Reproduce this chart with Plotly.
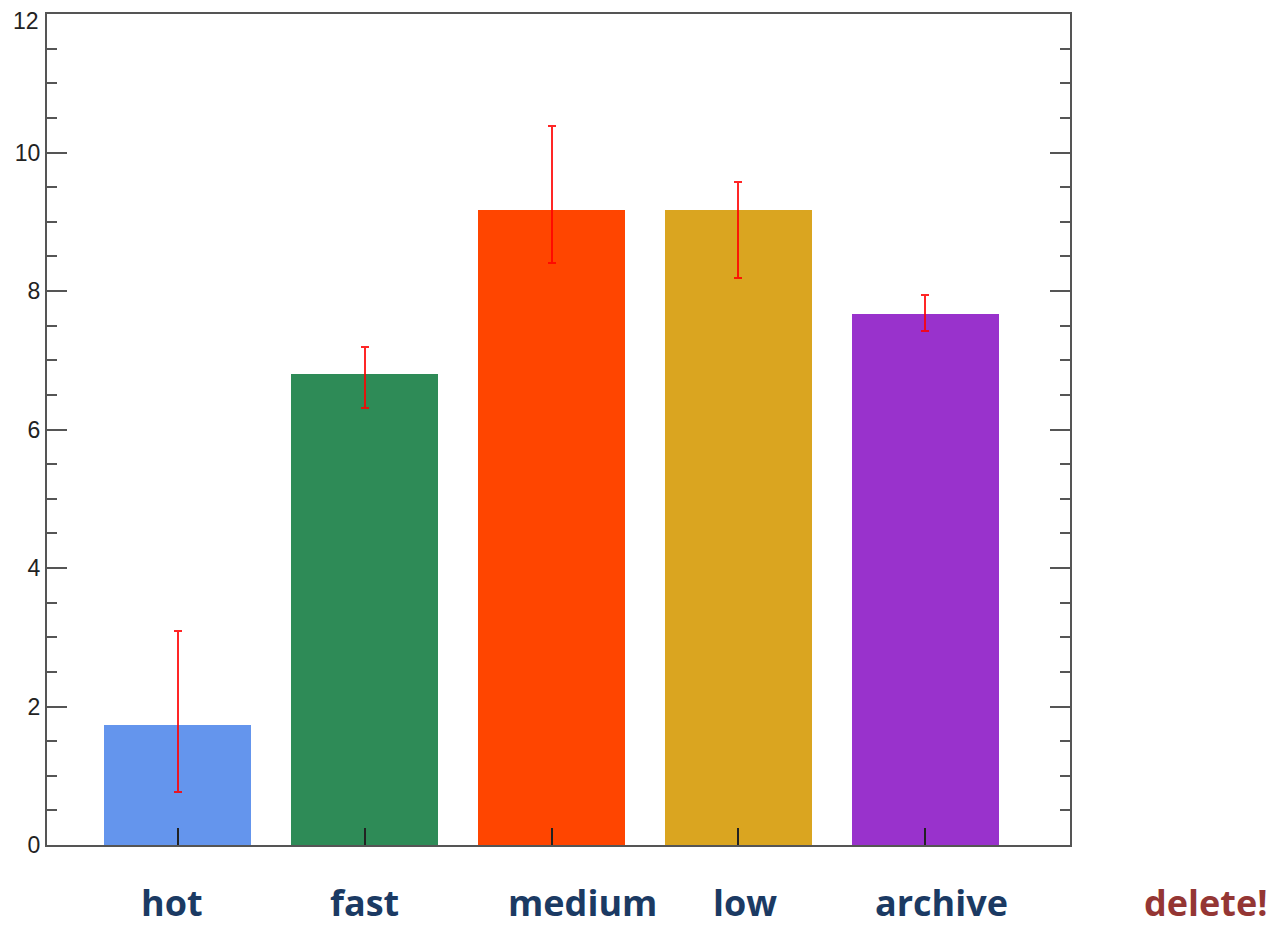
import plotly.graph_objects as go

categories = ["hot", "fast", "medium", "low", "archive"]
positions = [1, 2, 3, 4, 5]
values = [1.73, 6.80, 9.17, 9.17, 7.67]
err_upper = [3.09, 7.19, 10.38, 9.57, 7.94]
err_lower = [0.77, 6.31, 8.40, 8.19, 7.42]
colors = ["#6495ED", "#2E8B57", "#FF4500", "#DAA520", "#9932CC"]

y_ticks = [0, 2, 4, 6, 8, 10, 12]

label_texts = ["hot", "fast", "medium", "low", "archive", "delete!"]
label_xpix = [172, 364, 582, 745, 941, 1206]
label_colors = ["#1B3A63"] * 5 + ["#943634"]

plus = [u - v for u, v in zip(err_upper, values)]
minus = [v - l for v, l in zip(values, err_lower)]

# page body offset (default 8px body margin in the browser)
OFF = 8
L, T, R, B = 47 - OFF, 14 - OFF, 1282 - 1070 + OFF, 929 - 845 + OFF
W, H = 1282, 929
pw = W - L - R
ph = H - T - B

fig = go.Figure()
fig.add_trace(go.Bar(
    x=positions, y=values, width=0.787,
    marker=dict(color=colors, line=dict(width=0)),
    error_y=dict(type="data", symmetric=False, array=plus, arrayminus=minus,
                 color="rgba(255,0,0,0.85)", thickness=2, width=4),
    showlegend=False,
))

for t, xp, c in zip(label_texts, label_xpix, label_colors):
    fig.add_annotation(x=(xp - 47) / pw, xref="paper",
                       y=-(902 - 845) / ph, yref="paper",
                       text=f"<b>{t}</b>", showarrow=False,
                       font=dict(family="Open Sans", size=36, color=c),
                       xanchor="center", yanchor="middle", borderpad=0)

# top tick label (kept inside the page, slightly below its tick as in the reference)
fig.add_annotation(x=0, xref="paper", y=y_ticks[-1], yref="y", yshift=-7,
                   xanchor="right", xshift=-6, yanchor="middle",
                   text=str(y_ticks[-1]), showarrow=False,
                   font=dict(family="Liberation Sans", size=23, color="#222"))

fig.update_layout(
    width=W, height=H,
    margin=dict(l=L, r=R, t=T, b=B, autoexpand=False),
    plot_bgcolor="white", paper_bgcolor="white",
    bargap=0,
    xaxis=dict(range=[0.299, 5.776], tickvals=positions, showticklabels=False,
               ticks="inside", ticklen=17, tickwidth=2, tickcolor="#222",
               showline=True, linecolor="#555", linewidth=2, mirror=True,
               showgrid=False, zeroline=False, automargin=False),
    yaxis=dict(range=[0, 12], tickvals=y_ticks,
               ticktext=[str(v) for v in y_ticks[:-1]] + [""],
               ticks="inside", ticklen=20, tickwidth=2, tickcolor="#555",
               showline=True, linecolor="#555", linewidth=2, mirror="ticks",
               showgrid=False, zeroline=False, automargin=False,
               tickfont=dict(family="Liberation Sans", size=23, color="#222"),
               minor=dict(dtick=0.5, ticks="inside", ticklen=10, tickwidth=2,
                          tickcolor="#555", showgrid=False)),
)

fig.write_html("out.html")
